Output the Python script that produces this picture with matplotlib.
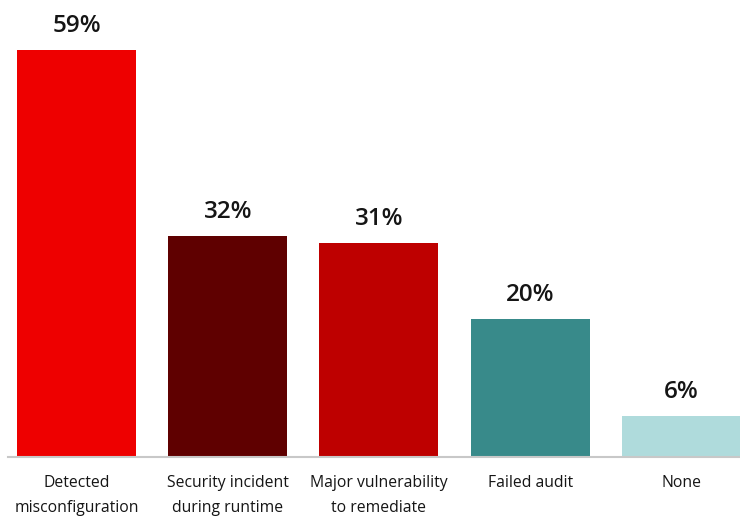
import matplotlib.pyplot as plt

categories = ["Detected\nmisconfiguration", "Security incident\nduring runtime",
              "Major vulnerability\nto remediate", "Failed audit", "None"]
values = [59, 32, 31, 20, 6]
colors = ["#EE0000", "#5F0000", "#BE0000", "#388A8A", "#AFDBDC"]

plt.rcParams['font.family'] = ['Open Sans', 'DejaVu Sans']

fig = plt.figure(figsize=(7.4, 5.17), dpi=100)
ax = fig.add_axes([8 / 740, 60 / 517, 732 / 740, 457 / 517])

x = list(range(len(values)))
ax.bar(x, values, width=0.787, color=colors, zorder=2)

for xi, v in zip(x, values):
    ax.annotate(f"{v}%", (xi, v), xytext=(0, 8.5), textcoords="offset points",
                ha="center", va="bottom", fontsize=17.5, fontweight="semibold",
                color="#151515")

ax.set_xlim(-0.4529, 4.387)
ax.set_ylim(0, 66.2)
ax.set_xticks(x)
ax.set_xticklabels(categories, fontsize=11.3, color="#151515", linespacing=1.75)
ax.tick_params(axis="x", length=0, pad=13)
ax.set_yticks([])
for side in ["top", "right", "left"]:
    ax.spines[side].set_visible(False)
ax.spines["bottom"].set_color("#C8C8C8")
ax.spines["bottom"].set_linewidth(1.5)

fig.savefig("out.png", dpi=100)
